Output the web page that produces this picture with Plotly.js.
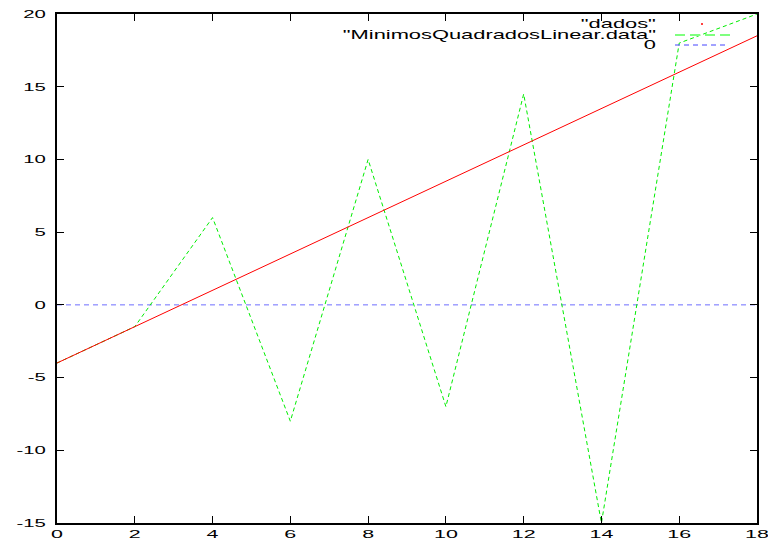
<!DOCTYPE html>
<html>
<head>
<meta charset="utf-8">
<script src="https://cdn.plot.ly/plotly-3.0.1.min.js"></script>
<style>html,body{margin:0;padding:0;background:#fff;}#chart{width:768px;height:541px;}</style>
</head>
<body>
<div id="chart"></div>
<script>
// Data
const xValues = [0, 2, 4, 6, 8, 10, 12, 14, 16, 18];
const dadosY = [-4, -1.5, 1, 3.5, 6, 8.5, 11, 13.5, 16, 18.5];
const minimosY = [-4, -1.5, 6, -8, 10, -7, 14.5, -15, 18, 20];
const zeroX = [0, 18];
const zeroY = [0, 0];
const legendLabels = ['"dados"', '"MinimosQuadradosLinear.data"', '0'];
const xTicks = [0, 2, 4, 6, 8, 10, 12, 14, 16, 18];
const yTicks = [-15, -10, -5, 0, 5, 10, 15, 20];

const W = 768, H = 541;
const M = {l: 57, r: 11, t: 14, b: 18};
const pw = W - M.l - M.r, ph = H - M.t - M.b;
const px = v => (v - M.l) / pw;
const py = v => (H - M.b - v) / ph;

const traces = [
  {x: zeroX, y: zeroY, mode: 'lines', line: {color: 'rgb(110,110,255)', width: 1, dash: '5px,4px'}, hoverinfo: 'skip'},
  {x: xValues, y: minimosY, mode: 'lines', line: {color: '#00ee00', width: 1, dash: '4px,3px'}, hoverinfo: 'skip'},
  {x: xValues, y: dadosY, mode: 'lines', line: {color: '#ff0000', width: 1}, hoverinfo: 'skip'}
];

const fam = '"Liberation Sans", Arial, Helvetica, sans-serif';
const tickFont = {family: fam, size: 11, color: '#000'};
const legFont = {family: fam, size: 12.5, color: '#000'};
const legendRows = [24, 35, 45];
const annotations = legendLabels.map((t, i) => ({
  text: t, xref: 'paper', yref: 'paper', x: px(658), y: py(legendRows[i]),
  xanchor: 'right', yanchor: 'middle', showarrow: false, font: legFont
}));

const shapes = [
  {type: 'line', xref: 'paper', yref: 'paper', x0: px(701), x1: px(703), y0: py(legendRows[0]), y1: py(legendRows[0]), line: {color: '#ff0000', width: 1.5}},
  {type: 'line', xref: 'paper', yref: 'paper', x0: px(675), x1: px(730), y0: py(legendRows[1]), y1: py(legendRows[1]), line: {color: '#7fff7f', width: 2, dash: '10px,5px'}},
  {type: 'line', xref: 'paper', yref: 'paper', x0: px(675), x1: px(727), y0: py(legendRows[2]), y1: py(legendRows[2]), line: {color: '#4444ff', width: 1, dash: '5px,4px'}}
];

const axisCommon = {
  showgrid: false, zeroline: false, showline: true, linecolor: '#000', linewidth: 2,
  mirror: 'ticks', ticks: 'inside', ticklen: 7, tickwidth: 1, tickcolor: '#000',
  tickfont: tickFont, fixedrange: true
};

const layout = {
  width: W, height: H, margin: M, showlegend: false,
  paper_bgcolor: '#fff', plot_bgcolor: '#fff',
  xaxis: Object.assign({}, axisCommon, {range: [0, 18], tickvals: xTicks, ticktext: xTicks.map(String)}),
  yaxis: Object.assign({}, axisCommon, {range: [-15, 20], tickvals: yTicks, ticktext: yTicks.map(String), ticklabelstandoff: 7}),
  annotations: annotations, shapes: shapes
};

// Reference text is drawn horizontally stretched; widen rendered text around an anchor
function stretch(el, sx, pivot) {
  const bb = el.getBBox();
  let p = bb.x + bb.width / 2;
  if (pivot === 'right') p = bb.x + bb.width;
  if (pivot === 'left') p = bb.x;
  const t = el.getAttribute('transform') || '';
  el.setAttribute('transform', t + ' translate(' + p + ',0) scale(' + sx + ',1) translate(' + (-p) + ',0)');
}

Plotly.newPlot('chart', traces, layout, {staticPlot: true, displayModeBar: false}).then(gd => {
  gd.querySelectorAll('.xtick text').forEach(el => stretch(el, 1.95, 'center'));
  gd.querySelectorAll('.ytick text').forEach(el => stretch(el, 1.85, 'right'));
  gd.querySelectorAll('.annotation-text').forEach(el => stretch(el, 1.75, 'right'));
});
</script>
</body>
</html>
